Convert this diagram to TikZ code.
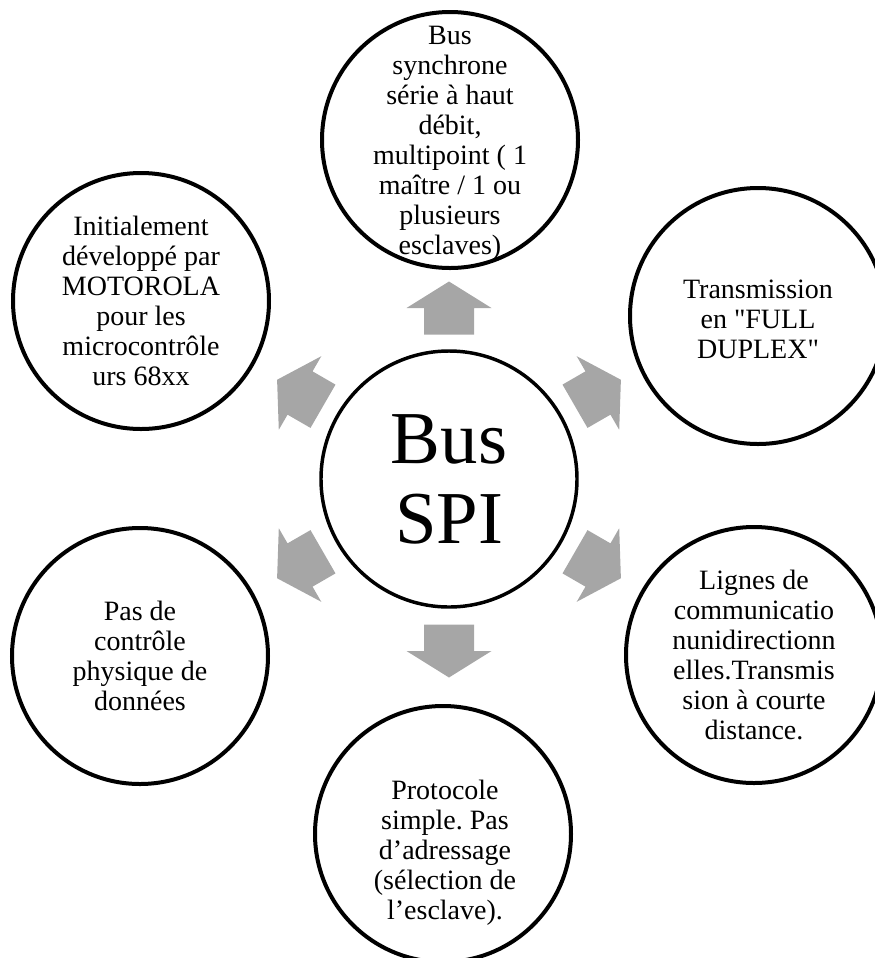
\documentclass[tikz,border=0pt]{standalone}
\usepackage{fontspec}
\setmainfont{Liberation Serif}[Ligatures=TeXOff]
\usetikzlibrary{calc}
\definecolor{arrowgray}{RGB}{166,166,166}
\frenchspacing
\tikzset{
  bubble/.style={circle, draw=black, line width=3pt, fill=white,
    minimum size=192pt, inner sep=0pt},
  hubcircle/.style={bubble, line width=2.6pt},
  bubbletext/.style={align=center, inner sep=0pt,
    font=\fontsize{21}{22.5}\selectfont},
  hubtext/.style={align=center, inner sep=0pt,
    font=\fontsize{56}{60}\selectfont},
  blockarrow/.pic={
    \fill[arrowgray] (-26.5,25) -- (0,25) -- (0,42.5) -- (26.5,0)
      -- (0,-42.5) -- (0,-25) -- (-26.5,-25) -- cycle;
  }
}
\begin{document}
\begin{tikzpicture}[x=0.75pt, y=0.75pt]
  \useasboundingbox (0,0) rectangle (875,-958);
  \clip (0,0) rectangle (875,-958);

  % centre and the six surrounding circles
  \node[hubcircle] (hub) at (449,-479) {};
  \node[bubble] (top)  at (450,-140) {};
  \node[bubble] (rtop) at (758,-316) {};
  \node[bubble] (rbot) at (754,-655) {};
  \node[bubble] (bot)  at (443,-834) {};
  \node[bubble] (lbot) at (140,-656) {};
  \node[bubble] (ltop) at (141,-301) {};

  % texts
  \node[hubtext] at (hub) {Bus\\SPI};
  \node[bubbletext] at ($(top)+(0,-3)$) {Bus\\synchrone\\série à haut\\débit,\\multipoint ( 1\\maître / 1 ou\\plusieurs\\esclaves)};
  \node[bubbletext] at ($(rtop)+(0,-3)$) {Transmission\\en "FULL\\DUPLEX"};
  \node[bubbletext] at (rbot) {Lignes de\\communicatio\\nunidirectionn\\elles.Transmis\\sion à courte\\distance.};
  \node[bubbletext] at ($(bot)+(2,-19)$) {Protocole\\simple. Pas\\d’adressage\\(sélection de\\l’esclave).};
  \node[bubbletext] at (lbot) {Pas de\\contrôle\\physique de\\données};
  \node[bubbletext] at (ltop) {Initialement\\développé par\\MOTOROLA\\pour les\\microcontrôle\\urs 68xx};

  % block arrows pointing outwards from the centre
  \pic (atop) [rotate=90]  at ($(hub)+(90:171)$)  {blockarrow};
  \pic (artop)[rotate=30]  at ($(hub)+(30:172)$)  {blockarrow};
  \pic (arbot)[rotate=-30] at ($(hub)+(-30:172)$) {blockarrow};
  \pic (abot) [rotate=-90] at ($(hub)+(-90:172)$) {blockarrow};
  \pic (albot)[rotate=210] at ($(hub)+(210:172)$) {blockarrow};
  \pic (altop)[rotate=150] at ($(hub)+(150:172)$) {blockarrow};
\end{tikzpicture}
\end{document}
